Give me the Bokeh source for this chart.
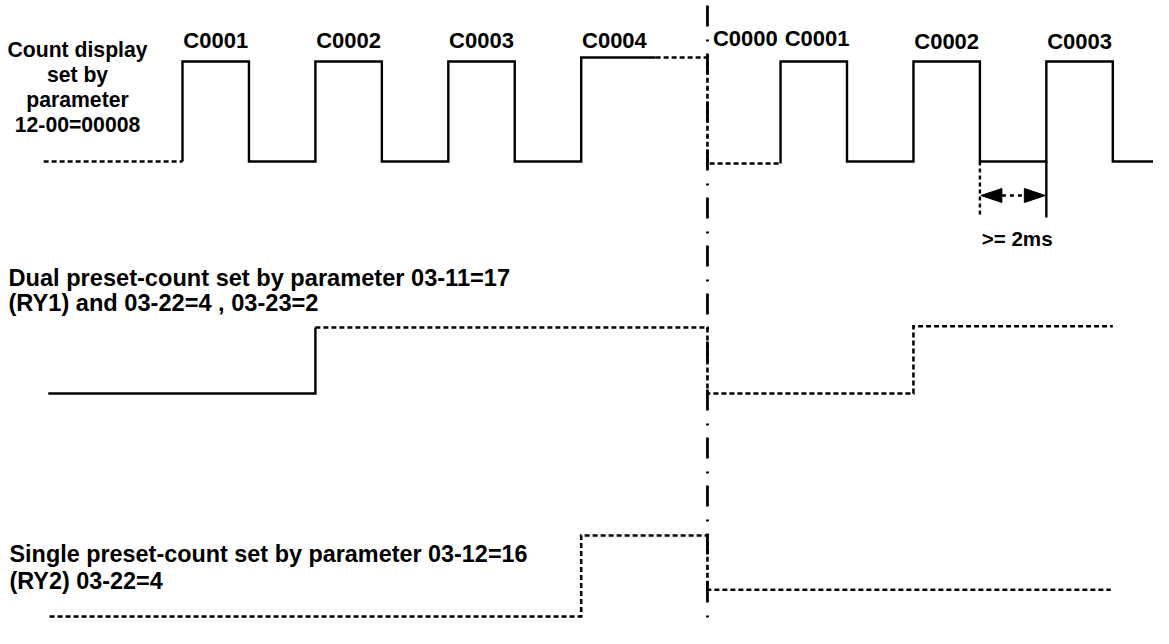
from bokeh.plotting import figure
from bokeh.models import Range1d, ColumnDataSource
from bokeh.core.properties import value
from bokeh.embed import file_html
from bokeh.resources import INLINE

# ---------------- data (time in half-periods, levels 0 = low, 1 = high) ----------------
count_pre_t = [-2.09, 0]
count_pre_lv = [0, 0]
count_left_t = [0, 0, 1, 1, 2, 2, 3, 3, 4, 4, 5, 5, 6, 6, 7.12]
count_left_lv = [0, 1, 1, 0, 0, 1, 1, 0, 0, 1, 1, 0, 0, 1.04, 1.04]
count_reset_t = [7.12, 7.9, 7.9, 9]
count_reset_lv = [1.04, 1.04, -0.02, -0.02]
count_right_t = [9, 9, 10, 10, 11, 11, 12, 12, 13, 13, 14, 14, 14.8]
count_right_lv = [-0.02, 1, 1, 0, 0, 1, 1, 0, 0, 1, 1, 0, 0]

dual_solid_t = [-2.02, 2, 2]
dual_solid_lv = [0, 0, 1]
dual_dash_t = [2, 7.9, 7.9, 11, 11, 14]
dual_dash_lv = [1, 1, 0, 0, 1.02, 1.02]

single_dash_t = [-2.0, 6, 6, 7.9, 7.9, 13.97]
single_dash_lv = [0, 0, 1, 1, 0.33, 0.33]

reset_t = 7.9
gap_start_t, gap_end_t = 12, 13

count_labels = ["C0001", "C0002", "C0003", "C0004", "C0000", "C0001", "C0002", "C0003"]
count_label_t = [0.5, 2.5, 4.5, 6.5, 8.47, 9.55, 11.5, 13.5]

count_title = ["Count display", "set by", "parameter", "12-00=00008"]
dual_title = ["Dual preset-count set by parameter 03-11=17", "(RY1) and 03-22=4 , 03-23=2"]
single_title = ["Single preset-count set by parameter 03-12=16", "(RY2) 03-22=4"]
gap_label = ">= 2ms"

# ---------------- layout ----------------
UNIT = 66.45          # px per half period
X0 = 182              # px of t = 0
W, H = 1153, 628
rows = {"count": (161, 100), "dual": (393, 66), "single": (616, 81)}


def ys(row, lv):
    base, amp = rows[row]
    return [base - l * amp for l in lv]


def px(d):
    return d / UNIT


p = figure(width=W, height=H, output_backend="svg", toolbar_location=None,
           x_range=Range1d((0 - X0) / UNIT, (W - X0) / UNIT),
           y_range=Range1d(H, 0), x_axis_type=None, y_axis_type=None,
           min_border=0, outline_line_color=None, background_fill_color="white",
           border_fill_color="white")
p.xgrid.visible = False
p.ygrid.visible = False

SOLID = dict(line_color="black", line_width=2.4, line_join="miter")
DASH = dict(line_color="black", line_width=2.6, line_dash="5 3", line_join="miter")

# reset dash-dot line
p.line([reset_t, reset_t], [5, 644], line_color="black", line_width=2.8,
       line_dash="21 13 2 12")

# count display signal
p.line(count_pre_t, ys("count", count_pre_lv), **DASH)
p.line(count_left_t, ys("count", count_left_lv), **SOLID)
p.line(count_reset_t, ys("count", count_reset_lv), **DASH)
p.line(count_right_t, ys("count", count_right_lv), **SOLID)

# dual preset signal
p.line(dual_solid_t, ys("dual", dual_solid_lv), **SOLID)
p.line(dual_dash_t, ys("dual", dual_dash_lv), **DASH)

# single preset signal
p.line(single_dash_t, ys("single", single_dash_lv), **DASH)

# >= 2ms dimension
low_y = rows["count"][0]
ay = 195
p.line([gap_start_t, gap_start_t], [low_y, 216], line_color="black", line_width=2.4, line_dash="4 3")
p.line([gap_end_t, gap_end_t], [low_y, 217], **SOLID)
hl, hw = 22, 7
p.line([gap_start_t + px(hl), gap_end_t - px(hl)], [ay, ay], line_color="black", line_width=2.4, line_dash="4 4")
p.patches(
    xs=[[gap_start_t + px(1), gap_start_t + px(hl), gap_start_t + px(hl)],
        [gap_end_t - px(1), gap_end_t - px(hl), gap_end_t - px(hl)]],
    ys=[[ay, ay - hw, ay + hw], [ay, ay - hw, ay + hw]],
    fill_color="black", line_color="black", line_width=1)

FONT = value("Liberation Sans")

# C labels
src = ColumnDataSource(dict(x=count_label_t, y=[40, 40, 40, 40, 38, 38, 41, 41], t=count_labels))
p.text("x", "y", text="t", source=src, text_font=FONT, text_font_style="bold",
       text_font_size="22px", text_align="center", text_baseline="middle")

# count title
p.text([px(77 - X0)] * 4, [49, 74, 99, 124], count_title, text_font=FONT,
       text_font_style="bold", text_font_size="21.2px", text_align="center",
       text_baseline="middle")

# dual title
p.text([px(8 - X0)] * 2, [277, 302], dual_title, text_font=FONT,
       text_font_style="bold", text_font_size="23.6px", text_align="left",
       text_baseline="middle")

# single title
p.text([px(9 - X0)] * 2, [553, 580], single_title, text_font=FONT,
       text_font_style="bold", text_font_size="23.4px", text_align="left",
       text_baseline="middle")

# gap label
p.text([(gap_start_t + gap_end_t) / 2 + px(4)], [238], [gap_label], text_font=FONT,
       text_font_style="bold", text_font_size="20.6px", text_align="center",
       text_baseline="middle")

open("out.html", "w").write(file_html(p, INLINE))
